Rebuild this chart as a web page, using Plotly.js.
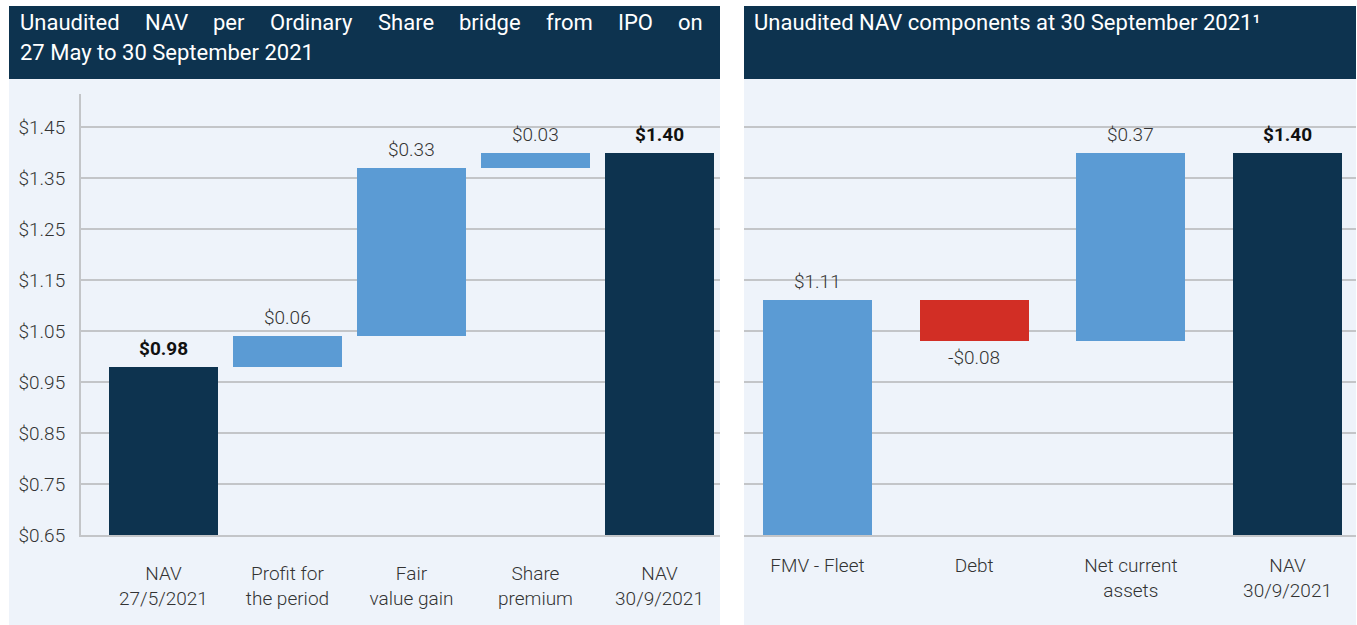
<!DOCTYPE html>
<html>
<head>
<meta charset="utf-8">
<script src="https://cdn.plot.ly/plotly-3.0.1.min.js"></script>
<style>
    html, body { margin: 0; padding: 0; background: #ffffff; }
    #chart { width: 1357px; height: 625px; }
</style>
</head>
<body>
<div id="chart"></div>
<script>
// Left panel: NAV per share bridge
const bridgeLabels = ['NAV<br>27/5/2021', 'Profit for<br>the period', 'Fair<br>value gain', 'Share<br>premium', 'NAV<br>30/9/2021'];
const bridgeValues = [0.98, 0.06, 0.33, 0.03, 1.40];
const bridgeMeasure = ['absolute', 'relative', 'relative', 'relative', 'total'];

// Right panel: NAV components
const compLabels = ['FMV - Fleet', 'Debt', 'Net current<br>assets', 'NAV<br>30/9/2021'];
const compValues = [1.11, -0.08, 0.37, 1.40];
const compMeasure = ['absolute', 'relative', 'relative', 'total'];

// Shared y axis ticks
const yTickVals = [0.65, 0.75, 0.85, 0.95, 1.05, 1.15, 1.25, 1.35, 1.45];
const yTickText = ['$0.65', '$0.75', '$0.85', '$0.95', '$1.05', '$1.15', '$1.25', '$1.35', '$1.45'];

const leftTitle = 'Unaudited NAV per Ordinary Share bridge from IPO on';
const leftTitle2 = '27 May to 30 September 2021';
const rightTitle = 'Unaudited NAV components at 30 September 2021\u00B9';

const config = {
    colors: {
        navy: '#0d334f',
        blue: '#5b9bd4',
        red: '#d22e25',
        panel: '#eef3fa',
        grid: '#c3c5c8',
        text: '#333333'
    }
};

const W = 1357, H = 625;
const px = v => v / W;
const py = v => 1 - v / H;

// Build floating bars (base + height) from a waterfall definition
function buildBars(labels, values, measure) {
    let running = 0;
    const base = [], height = [], colors = [], tops = [];
    values.forEach((v, i) => {
        if (measure[i] === 'relative') {
            base.push(running);
            height.push(v);
            running += v;
        } else {
            base.push(0);
            height.push(v);
            running = v;
        }
        if (v < 0) colors.push(config.colors.red);
        else if (labels[i].startsWith('NAV')) colors.push(config.colors.navy);
        else colors.push(config.colors.blue);
        tops.push(base[i] + height[i]);
    });
    return { base, height, colors, tops };
}

function fmt(v) {
    return (v < 0 ? '-$' : '$') + Math.abs(v).toFixed(2);
}

function valueLabels(labels, values, bars, xref, yref) {
    return labels.map((lab, i) => {
        const isNav = lab.startsWith('NAV');
        const neg = values[i] < 0;
        return {
            x: lab, y: bars.tops[i], xref: xref, yref: yref,
            text: isNav ? '<b>' + fmt(values[i]) + '</b>' : fmt(values[i]),
            showarrow: false,
            yanchor: neg ? 'top' : 'bottom',
            yshift: neg ? -3 : 5,
            font: {
                family: 'Roboto, sans-serif', size: 19,
                color: isNav ? '#111111' : config.colors.text,
                weight: isNav ? 400 : 300
            }
        };
    });
}

// Justify header words across a fixed width using canvas text metrics
const titleFont = { family: 'Roboto, sans-serif', size: 22, color: '#ffffff', weight: 400 };
function justifiedWords(text, x0, x1, yPix) {
    const ctx = document.createElement('canvas').getContext('2d');
    ctx.font = '400 22px Roboto';
    const words = text.split(' ');
    const widths = words.map(w => ctx.measureText(w).width);
    const gap = (x1 - x0 - widths.reduce((a, b) => a + b, 0)) / (words.length - 1);
    let x = x0;
    return words.map((w, i) => {
        const ann = {
            x: px(x), y: py(yPix), xref: 'paper', yref: 'paper',
            xanchor: 'left', yanchor: 'middle', text: w, showarrow: false,
            font: titleFont, borderpad: 0
        };
        x += widths[i] + gap;
        return ann;
    });
}

const leftBars = buildBars(bridgeLabels, bridgeValues, bridgeMeasure);
const rightBars = buildBars(compLabels, compValues, compMeasure);

const traces = [
    {
        type: 'bar', x: bridgeLabels, y: leftBars.height, base: leftBars.base,
        width: 0.88, marker: { color: leftBars.colors },
        xaxis: 'x', yaxis: 'y', hoverinfo: 'skip'
    },
    {
        type: 'bar', x: compLabels, y: rightBars.height, base: rightBars.base,
        width: 0.696, marker: { color: rightBars.colors },
        xaxis: 'x2', yaxis: 'y2', hoverinfo: 'skip'
    }
];

const tickFont = { family: 'Roboto, sans-serif', size: 19, color: config.colors.text, weight: 300 };
const yDomain = [py(535), py(94)];
const yRange = [0.65, 1.5147];

const layout = {
    width: W, height: H,
    margin: { l: 0, r: 0, t: 0, b: 0 },
    paper_bgcolor: '#ffffff',
    plot_bgcolor: 'rgba(0,0,0,0)',
    showlegend: false,
    bargap: 0,
    xaxis: {
        domain: [px(81), px(720)], range: [-0.665, 4.488], type: 'category',
        showline: true, linecolor: config.colors.grid, linewidth: 2,
        showgrid: false, ticks: '', tickfont: tickFont, ticklabelstandoff: 20,
        fixedrange: true, anchor: 'y'
    },
    yaxis: {
        domain: yDomain, range: yRange, tickvals: yTickVals, ticktext: yTickText,
        showgrid: true, gridcolor: config.colors.grid, gridwidth: 2,
        showline: true, linecolor: config.colors.grid, linewidth: 2,
        zeroline: false, ticks: '', tickfont: tickFont, ticklabelstandoff: 10,
        fixedrange: true, anchor: 'x'
    },
    xaxis2: {
        domain: [px(744), px(1356)], range: [-0.469, 3.437], type: 'category',
        showline: true, linecolor: config.colors.grid, linewidth: 2,
        showgrid: false, ticks: '', tickfont: tickFont, ticklabelstandoff: 12,
        fixedrange: true, anchor: 'y2'
    },
    yaxis2: {
        domain: yDomain, range: yRange, tickvals: yTickVals,
        showgrid: true, gridcolor: config.colors.grid, gridwidth: 2,
        showline: false, showticklabels: false, zeroline: false, ticks: '',
        fixedrange: true, anchor: 'x2'
    },
    shapes: [
        { type: 'rect', xref: 'paper', yref: 'paper', x0: px(9), x1: px(720), y0: 0, y1: py(79),
          fillcolor: config.colors.panel, line: { width: 0 }, layer: 'below' },
        { type: 'rect', xref: 'paper', yref: 'paper', x0: px(744), x1: px(1356), y0: 0, y1: py(79),
          fillcolor: config.colors.panel, line: { width: 0 }, layer: 'below' },
        { type: 'rect', xref: 'paper', yref: 'paper', x0: px(9), x1: px(720), y0: py(79), y1: py(6),
          fillcolor: config.colors.navy, line: { width: 0 }, layer: 'below' },
        { type: 'rect', xref: 'paper', yref: 'paper', x0: px(744), x1: px(1356), y0: py(79), y1: py(6),
          fillcolor: config.colors.navy, line: { width: 0 }, layer: 'below' }
    ],
    annotations: [
        ...justifiedWords(leftTitle, 19, 702, 23),
        {
            x: px(19), y: py(53), xref: 'paper', yref: 'paper', xanchor: 'left', yanchor: 'middle',
            text: leftTitle2, showarrow: false, font: titleFont, borderpad: 0
        },
        {
            x: px(753), y: py(23), xref: 'paper', yref: 'paper', xanchor: 'left', yanchor: 'middle',
            text: rightTitle, showarrow: false, font: titleFont, borderpad: 0
        },
        ...valueLabels(bridgeLabels, bridgeValues, leftBars, 'x', 'y'),
        ...valueLabels(compLabels, compValues, rightBars, 'x2', 'y2')
    ]
};

try {
    Plotly.newPlot('chart', traces, layout, { displayModeBar: false, staticPlot: true });
} catch (error) {
    console.error('Error creating chart:', error);
}
</script>
</body>
</html>
